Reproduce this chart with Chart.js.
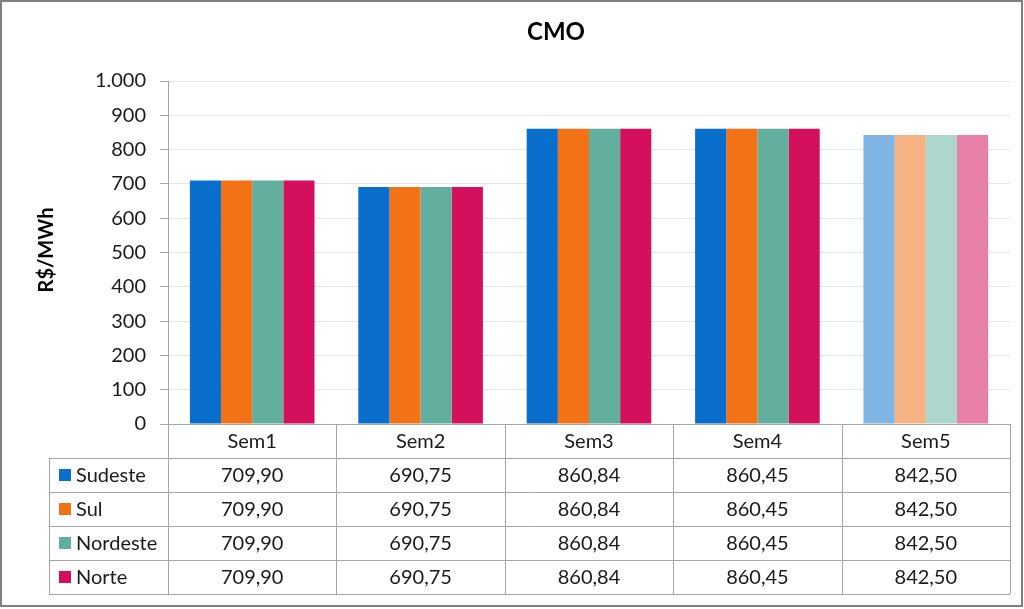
<!DOCTYPE html>
<html>
<head>
<meta charset="utf-8">
<script src="https://cdn.jsdelivr.net/npm/chart.js@4"></script>
<style>
  html, body { margin: 0; padding: 0; background: #fff; }
  #wrap { width: 1024px; height: 609px; position: relative; }
</style>
</head>
<body>
<div id="wrap"><canvas id="cmoChart" width="1024" height="609"></canvas></div>
<script>
// Data
const categories = ['Sem1', 'Sem2', 'Sem3', 'Sem4', 'Sem5'];
const seriesNames = ['Sudeste', 'Sul', 'Nordeste', 'Norte'];
const sudeste = [709.90, 690.75, 860.84, 860.45, 842.50];
const sul = [709.90, 690.75, 860.84, 860.45, 842.50];
const nordeste = [709.90, 690.75, 860.84, 860.45, 842.50];
const norte = [709.90, 690.75, 860.84, 860.45, 842.50];
const yMax = 1000;
const yStep = 100;

const FONT = 'Lato, "Open Sans", "Liberation Sans", sans-serif';

// Series colors (solid, and faded for the last week)
const colors = ['#0A6ECD', '#F47216', '#62AFA0', '#D40F5E'];
const fadedColors = ['#7FB4E4', '#F7B283', '#ADD6CE', '#E87FA8'];

function barColors(i) {
  return categories.map((c, j) => j === categories.length - 1 ? fadedColors[i] : colors[i]);
}

function fmtTick(v) {
  return String(v).replace(/\B(?=(\d{3})+(?!\d))/g, '.');
}
function fmtValue(v) {
  return v.toFixed(2).replace('.', ',');
}

const allSeries = [sudeste, sul, nordeste, norte];

// Draws frame, title, y title and the data table below the plot
const extrasPlugin = {
  id: 'extras',
  beforeDraw(chart) {
    const ctx = chart.ctx;
    ctx.save();
    ctx.fillStyle = '#fff';
    ctx.fillRect(0, 0, chart.width, chart.height);
    ctx.restore();
  },
  afterDraw(chart) {
    const ctx = chart.ctx;
    const area = chart.chartArea;
    const xs = chart.scales.x;
    const catW = (area.right - area.left) / categories.length;
    const rowH = 34;
    const tableLeft = 49;
    const top = area.bottom;

    ctx.save();

    // title
    ctx.fillStyle = '#000';
    ctx.font = 'bold 24px ' + FONT;
    ctx.textAlign = 'center';
    ctx.textBaseline = 'middle';
    ctx.fillText('CMO', 556, 32);

    // y axis title
    ctx.save();
    ctx.translate(47, 250);
    ctx.rotate(-Math.PI / 2);
    ctx.font = 'bold 20px ' + FONT;
    ctx.fillText('R$/MWh', 0, 0);
    ctx.restore();

    // table lines
    ctx.strokeStyle = '#A6A6A6';
    ctx.lineWidth = 1;
    ctx.beginPath();
    // header top line (x axis) with tick
    ctx.moveTo(area.left - 8, top + 0.5);
    ctx.lineTo(area.right, top + 0.5);
    for (let r = 1; r <= seriesNames.length + 1; r++) {
      const y = Math.round(top + r * rowH) + 0.5;
      ctx.moveTo(tableLeft, y);
      ctx.lineTo(area.right, y);
    }
    // vertical lines
    for (let i = 0; i <= categories.length; i++) {
      const x = Math.round(area.left + i * catW) + 0.5;
      ctx.moveTo(x, top);
      ctx.lineTo(x, top + (seriesNames.length + 1) * rowH);
    }
    ctx.moveTo(tableLeft + 0.5, top + rowH);
    ctx.lineTo(tableLeft + 0.5, top + (seriesNames.length + 1) * rowH);
    ctx.stroke();

    // header labels
    ctx.fillStyle = '#1a1a1a';
    ctx.font = '20px ' + FONT;
    categories.forEach((c, i) => {
      ctx.fillText(c, xs.getPixelForValue(i), top + rowH / 2 + 1);
    });

    // rows
    seriesNames.forEach((name, r) => {
      const yMid = top + (r + 1) * rowH + rowH / 2 + 1;
      ctx.fillStyle = colors[r];
      ctx.fillRect(59, Math.round(yMid - 7), 12, 12);
      ctx.fillStyle = '#1a1a1a';
      ctx.textAlign = 'left';
      ctx.fillText(name, 76, yMid);
      ctx.textAlign = 'center';
      allSeries[r].forEach((v, i) => {
        ctx.fillText(fmtValue(v), xs.getPixelForValue(i), yMid);
      });
    });

    // outer frame
    ctx.strokeStyle = '#7F7F7F';
    ctx.lineWidth = 2;
    ctx.strokeRect(1, 1, chart.width - 3, chart.height - 4);
    ctx.restore();
  }
};

const ctx = document.getElementById('cmoChart').getContext('2d');
new Chart(ctx, {
  type: 'bar',
  data: {
    labels: categories,
    datasets: seriesNames.map((name, i) => ({
      label: name,
      data: allSeries[i],
      backgroundColor: barColors(i),
      borderWidth: 0,
      categoryPercentage: 0.74,
      barPercentage: 1.0
    }))
  },
  options: {
    responsive: false,
    animation: false,
    layout: {
      padding: { top: 81, bottom: 185, left: 0, right: 14 }
    },
    plugins: {
      legend: { display: false },
      title: { display: false },
      tooltip: { enabled: false }
    },
    scales: {
      x: {
        display: false
      },
      y: {
        min: 0,
        max: yMax,
        ticks: {
          stepSize: yStep,
          color: '#1a1a1a',
          font: { family: FONT, size: 20 },
          padding: 14,
          callback: v => fmtTick(v)
        },
        grid: {
          color: '#E6E6E6',
          tickColor: '#A6A6A6',
          tickLength: 8
        },
        border: { color: '#A6A6A6' },
        afterFit(scale) { scale.width = 168; }
      }
    }
  },
  plugins: [extrasPlugin]
});
</script>
</body>
</html>
